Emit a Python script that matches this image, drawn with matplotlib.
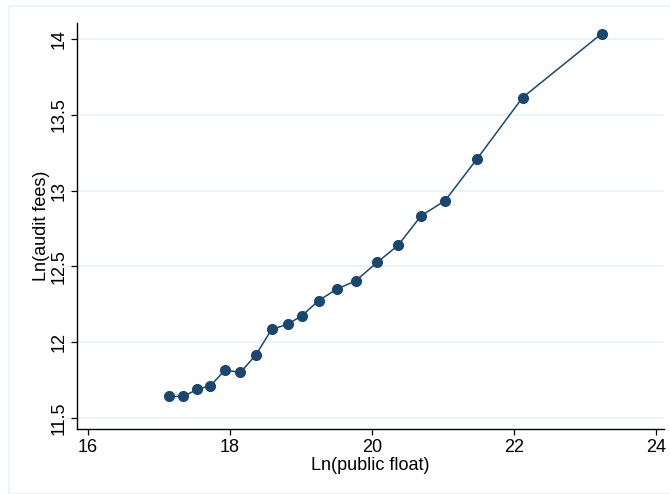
import numpy as np
import matplotlib
matplotlib.use("Agg")
import matplotlib.pyplot as plt
from matplotlib.patches import Rectangle

plt.rcParams['font.family'] = ['Liberation Sans', 'DejaVu Sans']

# binned means
public_float = [17.145, 17.344, 17.537, 17.724, 17.929, 18.146, 18.363, 18.586,
                18.809, 19.014, 19.249, 19.508, 19.767, 20.069, 20.364, 20.690,
                21.027, 21.479, 22.118, 23.233]
audit_fees = [11.643, 11.643, 11.689, 11.713, 11.817, 11.801, 11.916, 12.085,
              12.118, 12.176, 12.275, 12.352, 12.404, 12.526, 12.638, 12.834,
              12.933, 13.210, 13.613, 14.035]
x_ticks = [16, 18, 20, 22, 24]
y_ticks = [11.5, 12, 12.5, 13, 13.5, 14]
y_labels = ["11.5", "12", "12.5", "13", "13.5", "14"]

navy = "#1a476f"
grid_col = "#eaf2f3"

fig = plt.figure(figsize=(6.7, 4.94), dpi=100)
W, H = 670.0, 494.0

# light outer frame like the stata graph region
fig.patches.append(Rectangle((9 / W, 0), 1, 1 - 6 / H, transform=fig.transFigure,
                             fill=False, edgecolor=grid_col, linewidth=1.2))

left, right, top, bottom = 77, 664, 23, 429
ax = fig.add_axes([left / W, 1 - bottom / H, (right - left) / W, (bottom - top) / H])

ax.plot(public_float, audit_fees, color=navy, linewidth=1.1, marker='o',
        markersize=7, markerfacecolor=navy, markeredgecolor=navy, zorder=3)

ax.set_xlim(15.845, 24.11)
ax.set_ylim(11.428, 14.105)
ax.set_xticks(x_ticks)
ax.set_yticks(y_ticks)
ax.set_yticklabels(y_labels, rotation=90, va='center')
ax.yaxis.grid(True, color=grid_col, linewidth=1.2)
ax.set_axisbelow(True)

for s in ['top', 'right']:
    ax.spines[s].set_visible(False)
for s in ['left', 'bottom']:
    ax.spines[s].set_linewidth(1.0)
    ax.spines[s].set_color('black')

ax.tick_params(axis='both', direction='out', length=4.5, width=0.9, labelsize=13)
ax.tick_params(axis='x', pad=2.6)
ax.tick_params(axis='y', pad=2.0)
ax.set_xlabel("Ln(public float)", fontsize=13, labelpad=0.5)
ax.set_ylabel("Ln(audit fees)", fontsize=13, labelpad=1)

fig.savefig("out.png", dpi=100)
